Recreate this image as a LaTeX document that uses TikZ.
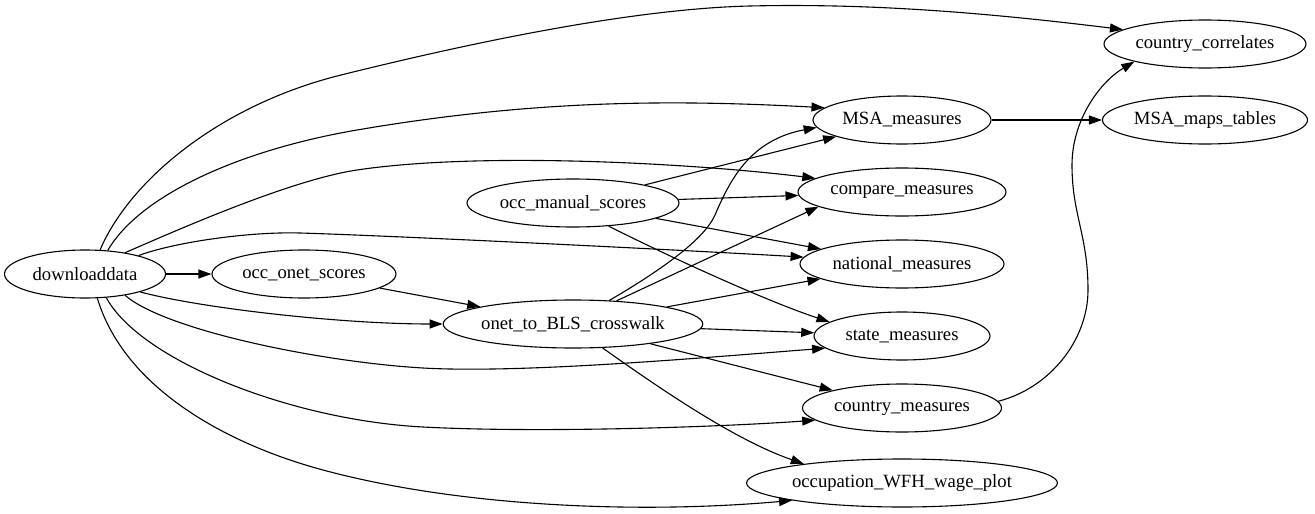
\documentclass[tikz,border=0pt]{standalone}
\usepackage{fontspec}
\setmainfont{Liberation Serif}
\usetikzlibrary{shapes.geometric,arrows.meta}
\tikzset{
  nd/.style={ellipse, draw, line width=1.1pt, inner sep=0pt, minimum height=48pt,
    font=\fontsize{18.67pt}{22pt}\selectfont},
  ed/.style={-{Triangle[length=13pt,width=9pt]}, line width=1.1pt}
}
\begin{document}
\begin{tikzpicture}[x=1pt,y=-1pt]
\useasboundingbox (0,0) rectangle (1315,514);
\node[nd, minimum width=161pt] (D) at (85,274) {downloaddata};
\node[nd, minimum width=184pt] (O) at (304,274) {occ\_onet\_scores};
\node[nd, minimum width=259pt] (X) at (573,324) {onet\_to\_BLS\_crosswalk};
\node[nd, minimum width=212pt] (M) at (573,203) {occ\_manual\_scores};
\node[nd, minimum width=178pt] (MSA) at (902,120) {MSA\_measures};
\node[nd, minimum width=208pt] (CMP) at (902,192) {compare\_measures};
\node[nd, minimum width=204pt] (NAT) at (902,264) {national\_measures};
\node[nd, minimum width=176pt] (ST) at (902,336) {state\_measures};
\node[nd, minimum width=199pt] (CM) at (902,408) {country\_measures};
\node[nd, minimum width=307pt] (W) at (902,483) {occupation\_WFH\_wage\_plot};
\node[nd, minimum width=202pt] (CC) at (1205,44) {country\_correlates};
\node[nd, minimum width=205pt] (MT) at (1205,120) {MSA\_maps\_tables};

% from downloaddata
\draw[ed] (D.58) .. controls (130,180) and (220,105) .. (341,75)
  .. controls (441,50.2) and (620,9) .. (750,6)
  .. controls (880,3) and (1000,14.5) .. (CC.170);
\draw[ed] (D.46) .. controls (140,195) and (240,150) .. (357,130)
  .. controls (540,98.7) and (680,100) .. (MSA.171);
\draw[ed] (D.28) .. controls (175,231) and (290,180) .. (357,170)
  .. controls (480,151.6) and (690,163) .. (CMP.171);
\draw[ed] (D.19) .. controls (175,242) and (250,231.5) .. (300,233)
  .. controls (400,236) and (700,251) .. (NAT.176);
\draw[ed] (D) -- (O);
\draw[ed] (D.342) .. controls (200,308) and (340,324) .. (X.180);
\draw[ed] (D.332) .. controls (165,330) and (320,362) .. (423,368)
  .. controls (520,373.6) and (700,358) .. (ST.189);
\draw[ed] (D.312) .. controls (140,360) and (290,420) .. (423,427)
  .. controls (540,433.2) and (720,427) .. (CM.188);
\draw[ed] (D.297) .. controls (125,390) and (230,445) .. (323,470)
  .. controls (460,507) and (640,514) .. (W.189);

% occ_onet_scores
\draw[ed] (O) -- (X);

% occ_manual_scores
\draw[ed] (M) -- (MSA);
\draw[ed] (M) -- (CMP);
\draw[ed] (M) -- (NAT);
\draw[ed] (M.327) .. controls (680,262) and (772,303) .. (ST.169);

% onet_to_BLS_crosswalk
\draw[ed] (X.33) .. controls (665,268) and (705,238) .. (715,215)
  .. controls (730,180) and (750,140) .. (MSA.185);
\draw[ed] (X.28) -- (CMP.190);
\draw[ed] (X) -- (NAT);
\draw[ed] (X) -- (ST);
\draw[ed] (X) -- (CM);
\draw[ed] (X.321) .. controls (662,390) and (735,440) .. (W.169);

% right side
\draw[ed] (MSA) -- (MT);
\draw[ed] (CM.4) .. controls (1050,388) and (1088,340) .. (1088,290)
  .. controls (1088,235) and (1072,215) .. (1072,165)
  .. controls (1072,120) and (1100,82) .. (CC.194);
\end{tikzpicture}
\end{document}
